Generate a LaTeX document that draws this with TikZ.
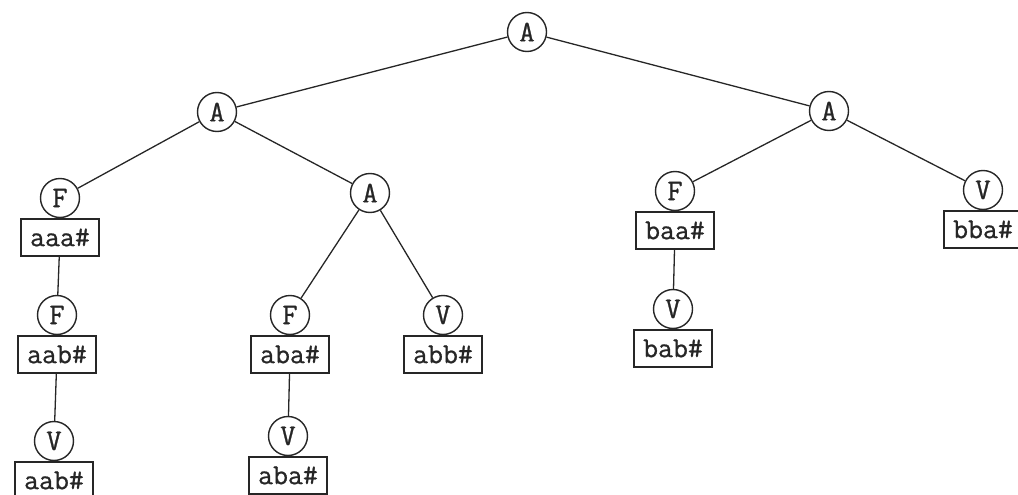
\documentclass[tikz,border=0pt]{standalone}
\usepackage{fontspec}
% slightly heavier typewriter face for the labels
\newfontfamily\labelfont{Latin Modern Mono}[FakeBold=0.8]
\begin{document}
\begin{tikzpicture}[x=1pt,y=-1pt,
  ink/.style={draw=black!85, line width=1.4pt},
  lbl/.style={ink, circle, minimum size=39pt, inner sep=0pt,
    font=\fontsize{30}{30}\selectfont\labelfont, text=black!85},
  tag/.style={ink, minimum width=78pt, minimum height=37pt, inner sep=0pt,
    anchor=north, font=\fontsize{29}{29}\selectfont\labelfont, text=black!85},
  link/.style={draw=black!85, line width=1.3pt}]
\useasboundingbox (0,0) rectangle (1018,495);

% internal nodes
\node[lbl] (r)  at (527,32)  {A};
\node[lbl] (la) at (217,112) {A};
\node[lbl] (ra) at (829,111) {A};
\node[lbl] (ma) at (370,193) {A};

% left branch
\node[lbl] (f1) at (60,198)  {F};
\node[tag] (b1) at (f1.south) {aaa\#};
\node[lbl] (f2) at (57,315)  {F};
\node[tag] (b2) at (f2.south) {aab\#};
\node[lbl] (v1) at (54,441)  {V};
\node[tag] (b3) at (v1.south) {aab\#};

% middle branch
\node[lbl] (mf) at (290,315) {F};
\node[tag] (b4) at (mf.south) {aba\#};
\node[lbl] (mv) at (288,436) {V};
\node[tag] (b5) at (mv.south) {aba\#};
\node[lbl] (vb) at (443,315) {V};
\node[tag] (b6) at (vb.south) {abb\#};

% right branch
\node[lbl] (rf) at (675,191) {F};
\node[tag] (b7) at (rf.south) {baa\#};
\node[lbl] (rv) at (673,309) {V};
\node[tag] (b8) at (rv.south) {bab\#};
\node[lbl] (vr) at (983,190) {V};
\node[tag] (b9) at (vr.south) {bba\#};

% tree edges
\draw[link] (r) -- (la);
\draw[link] (r) -- (ra);
\draw[link] (la) -- (f1);
\draw[link] (la) -- (ma);
\draw[link] (ma) -- (mf);
\draw[link] (ma) -- (vb);
\draw[link] (ra) -- (rf);
\draw[link] (ra) -- (vr);
\draw[link] (b1) -- (f2);
\draw[link] (b2) -- (v1);
\draw[link] (b4) -- (mv);
\draw[link] (b7) -- (rv);
\end{tikzpicture}
\end{document}
